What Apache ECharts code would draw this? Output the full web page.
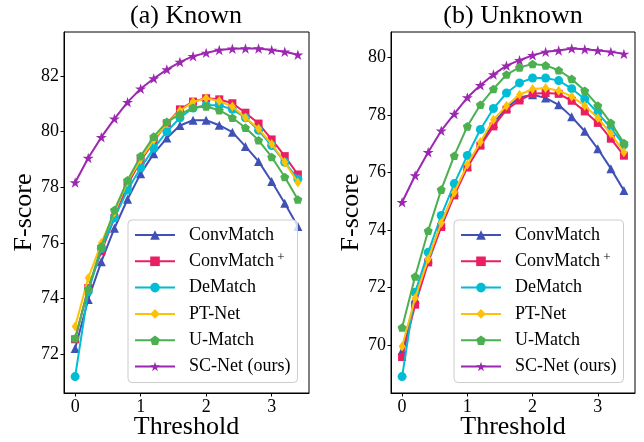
<!DOCTYPE html>
<html><head><meta charset="utf-8">
<script src="https://cdn.jsdelivr.net/npm/echarts@6/dist/echarts.min.js"></script>
<style>html,body{margin:0;padding:0;background:#fff}#c{width:644px;height:442px}</style>
</head><body><div id="c"></div>
<script>
const thresholds = [0, 0.2, 0.4, 0.6, 0.8, 1.0, 1.2, 1.4, 1.6, 1.8, 2.0, 2.2, 2.4, 2.6, 2.8, 3.0, 3.2, 3.4];
const methods = ['ConvMatch', 'ConvMatch+', 'DeMatch', 'PT-Net', 'U-Match', 'SC-Net (ours)'];
const panelTitles = ['(a) Known', '(b) Unknown'];
const xTicks = [0, 1, 2, 3];
const yTicksKnown = [72, 74, 76, 78, 80, 82];
const yTicksUnknown = [70, 72, 74, 76, 78, 80];

// (a) Known
const knownConvMatch  = [72.21, 73.97, 75.33, 76.53, 77.57, 78.49, 79.21, 79.77, 80.22, 80.41, 80.41, 80.23, 79.98, 79.47, 78.93, 78.21, 77.43, 76.59];
const knownConvMatchP = [72.54, 74.38, 75.70, 76.90, 78.10, 78.95, 79.65, 80.30, 80.80, 81.08, 81.20, 81.16, 81.02, 80.68, 80.29, 79.72, 79.12, 78.46];
const knownDeMatch    = [71.20, 74.25, 75.80, 76.90, 77.90, 78.70, 79.40, 80.00, 80.50, 80.85, 80.95, 80.95, 80.80, 80.50, 80.05, 79.50, 78.90, 78.30];
const knownPTNet      = [73.00, 74.74, 76.00, 77.10, 78.20, 79.00, 79.70, 80.30, 80.75, 81.07, 81.20, 81.10, 80.90, 80.50, 80.10, 79.56, 78.90, 78.17];
const knownUMatch     = [72.58, 74.34, 75.87, 77.18, 78.25, 79.12, 79.82, 80.35, 80.62, 80.86, 80.90, 80.77, 80.50, 80.14, 79.69, 79.09, 78.37, 77.56];
const knownSCNet      = [78.17, 79.05, 79.80, 80.46, 81.06, 81.54, 81.91, 82.23, 82.50, 82.71, 82.83, 82.93, 82.98, 82.99, 82.99, 82.93, 82.87, 82.76];

// (b) Unknown
const unknownConvMatch  = [69.80, 71.60, 73.00, 74.20, 75.30, 76.20, 77.00, 77.70, 78.25, 78.60, 78.70, 78.59, 78.35, 77.93, 77.43, 76.82, 76.13, 75.37];
const unknownConvMatchP = [69.58, 71.40, 72.87, 74.10, 75.20, 76.17, 76.93, 77.60, 78.18, 78.50, 78.73, 78.76, 78.73, 78.49, 78.12, 77.72, 77.17, 76.58];
const unknownDeMatch    = [68.90, 71.83, 73.22, 74.50, 75.61, 76.59, 77.49, 78.22, 78.76, 79.11, 79.28, 79.28, 79.19, 78.91, 78.55, 78.07, 77.54, 76.96];
const unknownPTNet      = [69.95, 71.63, 72.99, 74.24, 75.30, 76.27, 77.06, 77.83, 78.32, 78.70, 78.90, 78.93, 78.84, 78.64, 78.32, 77.89, 77.35, 76.70];
const unknownUMatch     = [70.61, 72.38, 73.97, 75.40, 76.58, 77.60, 78.35, 78.90, 79.40, 79.65, 79.77, 79.72, 79.55, 79.25, 78.84, 78.32, 77.72, 77.02];
const unknownSCNet      = [74.96, 75.89, 76.70, 77.45, 78.03, 78.60, 79.03, 79.40, 79.71, 79.90, 80.07, 80.19, 80.24, 80.31, 80.28, 80.24, 80.19, 80.12];

const knownAll = [knownConvMatch, knownConvMatchP, knownDeMatch, knownPTNet, knownUMatch, knownSCNet];
const unknownAll = [unknownConvMatch, unknownConvMatchP, unknownDeMatch, unknownPTNet, unknownUMatch, unknownSCNet];

const colors = ['#3F51B5', '#E91E63', '#00BCD4', '#FFC107', '#4CAF50', '#9C27B0'];
const STAR = 'path://M0,-1L0.2245,-0.309L0.951,-0.309L0.3633,0.118L0.588,0.809L0,0.382L-0.588,0.809L-0.3633,0.118L-0.951,-0.309L-0.2245,-0.309Z';
const PENT = 'path://M0,-1L0.951,-0.309L0.588,0.809L-0.588,0.809L-0.951,-0.309Z';
const symbols = ['triangle', 'rect', 'circle', 'diamond', PENT, STAR];
const sizes = [9, 8, 9, [7, 10], 9, 11];
const FONT = 'Liberation Serif';

function padRange(arrs) {
  let lo = Infinity, hi = -Infinity;
  arrs.forEach(a => a.forEach(v => { lo = Math.min(lo, v); hi = Math.max(hi, v); }));
  const m = (hi - lo) * 0.05;
  return [lo - m, hi + m];
}
const xSpan = thresholds[thresholds.length - 1] - thresholds[0];
const xr = [thresholds[0] - 0.05 * xSpan, thresholds[thresholds.length - 1] + 0.05 * xSpan];
const yrK = padRange(knownAll);
const yrU = padRange(unknownAll);

const grids = [
  { left: 64, top: 32, width: 245, height: 361 },
  { left: 391, top: 32, width: 244, height: 361 }
];

function mkX(gi) {
  return {
    type: 'value', gridIndex: gi, min: xr[0], max: xr[1],
    axisLine: { show: true, onZero: false, lineStyle: { color: '#000', width: 1 } },
    axisTick: { show: true, length: 3.5, customValues: xTicks, lineStyle: { color: '#000', width: 1 } },
    axisLabel: { customValues: xTicks, fontSize: 18, fontFamily: FONT, color: '#000', margin: 5 },
    splitLine: { show: false },
    name: 'Threshold', nameLocation: 'middle', nameGap: 21, nameMoveOverlap: false,
    nameTextStyle: { fontSize: 26, fontFamily: FONT, color: '#000' }
  };
}
function mkY(gi, yr, ticks) {
  return {
    type: 'value', gridIndex: gi, min: yr[0], max: yr[1],
    axisLine: { show: true, onZero: false, lineStyle: { color: '#000', width: 1 } },
    axisTick: { show: true, length: 3.5, customValues: ticks, lineStyle: { color: '#000', width: 1 } },
    axisLabel: { customValues: ticks, fontSize: 18, fontFamily: FONT, color: '#000', margin: 5 },
    splitLine: { show: false },
    name: 'F-score', nameLocation: 'middle', nameGap: 27, nameMoveOverlap: false,
    nameTextStyle: { fontSize: 26, fontFamily: FONT, color: '#000' }
  };
}
function mkSeries(gi, arrs) {
  return methods.map((m, k) => ({
    name: m, type: 'line', xAxisIndex: gi, yAxisIndex: gi,
    data: thresholds.map((x, j) => [x, arrs[k][j]]),
    symbol: symbols[k], symbolSize: sizes[k], symbolKeepAspect: true,
    showSymbol: true, showAllSymbol: true,
    lineStyle: { color: colors[k], width: 2 },
    itemStyle: { color: colors[k], borderWidth: 0 },
    emphasis: { disabled: true },
    z: 2 + k, animation: false
  }));
}
function mkLegend(left) {
  return {
    orient: 'vertical', left: left, top: 220,
    data: methods, itemWidth: 40, itemHeight: 12, itemGap: 6.3,
    padding: [5, 7, 6, 6],
    backgroundColor: 'rgba(255,255,255,0.8)', borderColor: '#cccccc', borderWidth: 1, borderRadius: 4,
    selectedMode: false,
    formatter: n => n === 'ConvMatch+' ? '{n|ConvMatch}{s| +}' : n,
    textStyle: {
      fontFamily: FONT, fontSize: 18, color: '#000', lineHeight: 20, padding: [0, 0, 0, 9],
      rich: {
        n: { fontFamily: FONT, fontSize: 18, color: '#000', lineHeight: 20 },
        s: { fontFamily: FONT, fontSize: 13, color: '#000', lineHeight: 12, verticalAlign: 'top' }
      }
    }
  };
}

const chart = echarts.init(document.getElementById('c'), null, { renderer: 'canvas' });
chart.setOption({
  animation: false,
  backgroundColor: '#fff',
  textStyle: { fontFamily: FONT },
  title: panelTitles.map((t, i) => ({
    text: t, left: i === 0 ? 186 : 513, top: 3, textAlign: 'center', padding: 0,
    textStyle: { fontSize: 26, fontFamily: FONT, fontWeight: 'normal', color: '#000' }
  })),
  grid: grids.map(g => Object.assign({ show: true, borderColor: '#000', borderWidth: 1, backgroundColor: 'transparent', containLabel: false, outerBoundsMode: 'none' }, g)),
  xAxis: [mkX(0), mkX(1)],
  yAxis: [mkY(0, yrK, yTicksKnown), mkY(1, yrU, yTicksUnknown)],
  legend: [mkLegend(128), mkLegend(454)],
  series: mkSeries(0, knownAll).concat(mkSeries(1, unknownAll))
});
</script>
</body></html>
